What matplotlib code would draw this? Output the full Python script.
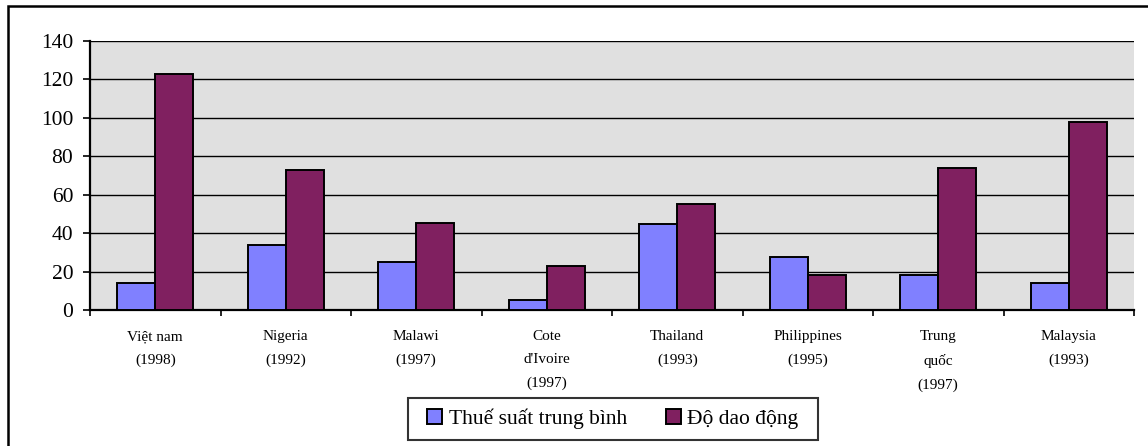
import matplotlib
matplotlib.use("Agg")
import matplotlib.pyplot as plt
import numpy as np
from matplotlib.patches import Rectangle
from matplotlib.ticker import FixedLocator, NullFormatter

plt.rcParams['font.family'] = ['Liberation Serif', 'DejaVu Serif']

categories = ["Việt nam\n(1998)", "Nigeria\n(1992)", "Malawi\n(1997)",
              "Cote\nd'Ivoire\n(1997)", "Thailand\n(1993)", "Philippines\n(1995)",
              "Trung\nquốc\n(1997)", "Malaysia\n(1993)"]
series_names = ["Thuế suất trung bình", "Độ dao động"]
thue_suat = [14, 34, 25, 5, 45, 27.5, 18, 14]
do_dao_dong = [123, 73, 45.5, 23, 55, 18, 74, 98]
y_ticks = [0, 20, 40, 60, 80, 100, 120, 140]

W, H = 1148, 446
fig = plt.figure(figsize=(W / 100, H / 100), dpi=100)
ax = fig.add_axes([90 / W, 1 - 310 / H, (1134 - 90) / W, (310 - 41) / H])
ax.set_facecolor('#E0E0E0')

x = np.arange(len(categories))
w = 0.293
ax.bar(x - w / 2, thue_suat, w, color='#8080FF', edgecolor='black', linewidth=1.4,
       label=series_names[0], zorder=3)
ax.bar(x + w / 2, do_dao_dong, w, color='#802060', edgecolor='black', linewidth=1.4,
       label=series_names[1], zorder=3)

ax.set_xlim(-0.5, len(categories) - 0.5)
ax.set_ylim(0, 140)
ax.set_yticks(y_ticks)
ax.set_yticklabels([str(v) for v in y_ticks], fontsize=15.5)
ax.tick_params(axis='y', direction='out', length=5, width=1.2, pad=7)
ax.yaxis.grid(True, color='black', linewidth=1.0, zorder=1)
ax.set_axisbelow(True)

ax.set_xticks(x)
ax.set_xticklabels(categories, fontsize=11, linespacing=2.02, va='top')
ax.tick_params(axis='x', which='major', length=0, pad=14.5)
ax.xaxis.set_minor_locator(FixedLocator(np.arange(-0.5, len(categories), 1.0)))
ax.xaxis.set_minor_formatter(NullFormatter())
ax.tick_params(axis='x', which='minor', direction='out', length=4, width=1.2)

for s in ['top', 'right']:
    ax.spines[s].set_visible(False)
for s in ['left', 'bottom']:
    ax.spines[s].set_linewidth(1.6)
    ax.spines[s].set_color('black')

leg = ax.legend(loc='upper center', bbox_to_anchor=(613 / W, 1 - 398 / H),
                bbox_transform=fig.transFigure, ncol=2, fontsize=15.5,
                frameon=True, fancybox=False, shadow=False,
                handlelength=0.7, handleheight=0.7, handletextpad=0.3,
                columnspacing=1.8, borderpad=0.5, borderaxespad=0)
frame = leg.get_frame()
frame.set_edgecolor('black')
frame.set_linewidth(1.5)
# extra horizontal padding only
frame.set_boxstyle('square', pad=0.42)
frame.set_mutation_aspect(0.001)

# outer chart border (left and top visible)
fig.patches.append(Rectangle((7.5 / W, -0.1), 1.2, 1 - 6 / H + 0.1,
                             transform=fig.transFigure, fill=False,
                             edgecolor='black', linewidth=1.8, zorder=10))

fig.savefig('out.png', dpi=100)
